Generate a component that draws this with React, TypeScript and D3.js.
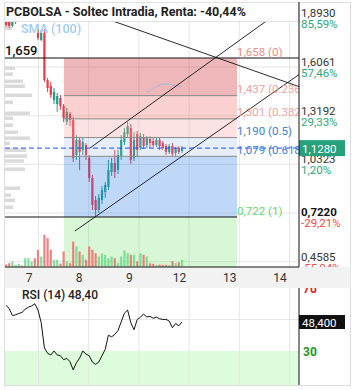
import React from "react";
import * as d3 from "d3";

// intraday candles, Soltec (PCBOLSA)
const open = [1.871, 1.877, 1.848, 1.871, 1.889, 1.918, 1.901, 1.924, 1.936, 1.948,
  1.824, 1.765, 1.806, 1.529, 1.494, 1.412, 1.388, 1.423, 1.376, 1.282,
  1.329, 1.294, 1.087, 1.176, 1.117, 1.146, 1.070, 0.952, 0.822, 0.763,
  0.822, 0.869, 0.899, 0.987, 1.040, 0.999, 1.082, 1.164, 1.211, 1.247,
  1.070, 1.211, 1.129, 1.193, 1.146, 1.182, 1.170, 1.146, 1.176, 1.158,
  1.140, 1.105, 1.140, 1.099, 1.129, 1.111];
const high = [1.883, 1.883, 1.883, 1.907, 1.930, 1.930, 1.936, 1.954, 1.960, 1.960,
  1.830, 1.824, 1.830, 1.541, 1.518, 1.482, 1.453, 1.441, 1.388, 1.364,
  1.341, 1.311, 1.205, 1.193, 1.188, 1.158, 1.087, 0.970, 0.846, 0.857,
  0.905, 0.928, 1.058, 1.070, 1.117, 1.117, 1.205, 1.247, 1.282, 1.270,
  1.223, 1.229, 1.217, 1.211, 1.199, 1.199, 1.188, 1.188, 1.188, 1.170,
  1.152, 1.152, 1.158, 1.135, 1.140, 1.140];
const low = [1.842, 1.836, 1.842, 1.859, 1.883, 1.889, 1.895, 1.912, 1.924, 1.918,
  1.765, 1.759, 1.518, 1.459, 1.423, 1.388, 1.341, 1.353, 1.282, 1.264,
  1.258, 1.046, 1.058, 0.999, 1.087, 1.058, 0.928, 0.763, 0.722, 0.746,
  0.799, 0.834, 0.881, 0.964, 0.952, 0.975, 1.058, 1.146, 1.188, 1.034,
  1.052, 1.076, 1.117, 1.123, 1.129, 1.129, 1.135, 1.135, 1.117, 1.117,
  1.087, 1.093, 1.082, 1.082, 1.093, 1.099];
const close = [1.854, 1.848, 1.871, 1.895, 1.918, 1.901, 1.924, 1.942, 1.948, 1.930,
  1.777, 1.806, 1.529, 1.482, 1.441, 1.459, 1.435, 1.376, 1.305, 1.341,
  1.294, 1.070, 1.176, 1.105, 1.164, 1.087, 0.952, 0.793, 0.763, 0.834,
  0.881, 0.911, 0.999, 1.040, 0.987, 1.087, 1.176, 1.223, 1.258, 1.058,
  1.176, 1.117, 1.199, 1.140, 1.188, 1.158, 1.146, 1.176, 1.140, 1.129,
  1.105, 1.140, 1.093, 1.123, 1.105, 1.128];
const volume = [20, 33, 50, 15, 27, 10, 83, 83, 50, 83,
  167, 100, 317, 283, 167, 67, 67, 30, 150, 50,
  33, 250, 200, 150, 117, 67, 200, 167, 133, 100,
  130, 117, 83, 100, 83, 33, 100, 160, 133, 117,
  117, 50, 133, 117, 100, 33, 27, 17, 20, 17,
  17, 15, 53, 33, 43, 67];
const rsi = [59, 57, 52.5, 53, 53.8, 54.5, 56.5, 57.8, 58.6, 60,
  56, 48, 32, 28.5, 27.5, 30, 27.5, 27, 24.5, 25.3,
  23.2, 18, 22.5, 25.5, 30, 28, 27, 23, 21.5, 23,
  27, 31, 40, 39, 40.5, 43, 48.5, 54, 56, 48,
  43.5, 50, 51.4, 53.5, 51.6, 52, 50.8, 51.5, 50.5, 50,
  50.1, 49, 44.8, 47.5, 46, 48.4];

// SMA(100), only the visible tail
const smaIdx = [44, 45, 46, 47, 48, 49, 50, 51, 52, 53, 54, 55];
const smaVal = [1.456, 1.468, 1.479, 1.491, 1.5, 1.504, 1.506, 1.504, 1.5, 1.497, 1.494, 1.491];

// volume profile on the left
const profilePrice = [1.865, 1.836, 1.6, 1.565, 1.523, 1.494, 1.441, 1.4, 1.335, 1.305, 1.264,
  1.223, 1.188, 1.158, 1.117, 1.082, 1.053, 1.005, 0.893, 0.852, 0.822, 0.781];
const profileVol = [7, 7, 10, 8, 18, 20, 27, 8, 25, 8, 8, 13, 25, 5, 21, 22, 19, 20, 15, 6, 10, 8];

const days = ["7", "8", "9", "12", "13", "14"];
const gridTicks = [1.893, 1.6061, 1.3192, 1.0323, 0.7454, 0.4585];
const priceTicks = [1.893, 1.6061, 1.3192, 1.0323, 0.4585];
const pctTicks = ["85,59%", "57,46%", "29,33%", "1,20%", "-55,04%"];

const fibLevels = [0, 0.236, 0.382, 0.5, 0.618, 1];
const fibHigh = 1.6584;
const fibLow = 0.7216;
const fibFrom = 18.1;
const fibTo = 72.2;
const hiLine = 1.659;
const loLine = 0.722;
const loLinePct = "-29,21%";
const lastPrice = 1.128;
const lastRsi = 48.4;

// drawn trend lines: [index, price] pairs
const trendLines = [
  [[32.5, 1.883], [91.6, 1.49]],
  [[26.25, 1.1287], [83.1, 1.9006]],
  [[21.56, 0.6396], [91.56, 1.5612]],
];

const comma = (v: number, d: number) => v.toFixed(d).replace(".", ",");

export default function App() {
  const L = 5, R = 299, T = 2, B = 267;
  const x = d3.scaleLinear().domain([0, 55]).range([6, 182]);
  const y = d3.scaleLinear().domain([loLine, hiLine]).range([217, 58]);
  const vy = d3.scaleLinear().domain([0, 400]).range([266.5, 226.5]);
  const ry = d3.scaleLinear().domain([30, 70]).range([351, 288]);
  const xd = d3.scalePoint().domain(days).range([29, 280]);
  const font = "Roboto, sans-serif";

  const fibPrice = (l: number) => fibHigh - l * (fibHigh - fibLow);
  const fibFill = [
    "rgba(200,20,30,0.3)",
    "rgba(240,100,100,0.3)",
    "rgba(245,160,160,0.3)",
    "rgba(130,170,230,0.2)",
    "rgba(45,125,232,0.3)",
  ];
  const fibColor = ["#f08a8a", "#f5a0a0", "#f5a5a5", "#3c82dc", "#3c82dc", "#6ad86a"];
  const fx0 = x(fibFrom), fx1 = x(fibTo);

  const smaLine = d3.line<number>().x((d, i) => x(smaIdx[i])).y((d) => y(d)).curve(d3.curveMonotoneX);
  const rsiLine = d3.line<number>().x((d, i) => x(i)).y((d) => ry(d));

  const up = (i: number) => close[i] >= open[i];
  const red = "#f23645", green = "#1e9e86";

  return (
    <svg width={353} height={390} style={{ position: "absolute", left: 0, top: 0, background: "#fff" }} fontFamily={font}>
      <defs>
        <clipPath id="main"><rect x={L} y={T} width={R - L} height={B - T} /></clipPath>
        <clipPath id="rsi"><rect x={L} y={288} width={R - L} height={97} /></clipPath>
        <clipPath id="axr"><rect x={R} y={T} width={52} height={B - T} /></clipPath>
      </defs>
      <rect x={4.5} y={2.5} width={346} height={383} fill="#fff" stroke="#ddd" />

      <g clipPath="url(#main)">
        {days.map((d) => (
          <line key={d} x1={xd(d)! + 9.5} x2={xd(d)! + 9.5} y1={T} y2={B} stroke="#e6e6e6" />
        ))}
        {gridTicks.map((t) => (
          <line key={t} x1={L} x2={R} y1={y(t)} y2={y(t)} stroke="#e6e6e6" />
        ))}
        {profilePrice.map((p, i) => (
          <rect key={i} x={L} y={y(p) - 1.5} width={profileVol[i]} height={3.5} fill="#dadada" />
        ))}
        {/* fib green zone under level 1 */}
        <rect x={fx0} y={y(fibLow)} width={fx1 - fx0} height={B - y(fibLow)} fill="rgba(100,225,90,0.25)" />
        {volume.map((v, i) => (
          <rect key={i} x={x(i) - 1.1} y={vy(v)} width={2.2} height={vy(0) - vy(v)}
            fill={up(i) ? "#6cd98a" : "#f26b6b"} opacity={0.85} />
        ))}
        {open.map((o, i) => {
          const c = up(i) ? green : red;
          const y0 = y(Math.max(o, close[i])), y1 = y(Math.min(o, close[i]));
          return (
            <g key={i}>
              <line x1={x(i)} x2={x(i)} y1={y(high[i])} y2={y(low[i])} stroke={c} strokeWidth={1} />
              <rect x={x(i) - 1.1} y={y0} width={2.2} height={Math.max(1, y1 - y0)} fill={c} />
            </g>
          );
        })}
        {fibLevels.slice(0, -1).map((l, i) => (
          <rect key={l} x={fx0} y={y(fibPrice(l))} width={fx1 - fx0}
            height={y(fibPrice(fibLevels[i + 1])) - y(fibPrice(l))} fill={fibFill[i]} />
        ))}
        {fibLevels.slice(1, -1).map((l) => (
          <line key={l} x1={fx0} x2={fx1} y1={y(fibPrice(l))} y2={y(fibPrice(l))} stroke="#8a8a8a" />
        ))}
        <line x1={L} x2={R} y1={y(hiLine)} y2={y(hiLine)} stroke="#111" />
        <line x1={L} x2={fx1} y1={y(loLine)} y2={y(loLine)} stroke="#111" />
        <path d={smaLine(smaVal)!} fill="none" stroke="#a8b4d8" strokeWidth={1} />
        {trendLines.map((t, i) => (
          <line key={i} x1={x(t[0][0])} y1={y(t[0][1])} x2={x(t[1][0])} y2={y(t[1][1])} stroke="#111" strokeWidth={0.9} />
        ))}
        <line x1={L} x2={R} y1={y(lastPrice)} y2={y(lastPrice)} stroke="#1a4dff" strokeDasharray="5,3" />
        {fibLevels.map((l, i) => (
          <text key={l} x={fx1} y={y(fibPrice(l)) - 2.5} fontSize={11.5} fill={fibColor[i]}>
            {comma(fibPrice(l), 3)} ({l})
          </text>
        ))}
        <text x={L} y={y(hiLine) - 3} fontSize={13} fill="#111" fontWeight={500}>{comma(hiLine, 3)}</text>
        <text x={21} y={33} fontSize={12.5} fontWeight={500} fill="#9ccdf2">SMA (100)</text>
      </g>

      {/* title */}
      <rect x={4.5} y={2.5} width={294} height={19} fill="#fff" opacity={0.92} stroke="#e2e2e2" />
      <text x={6} y={16} fontSize={12.5} fontWeight={700} fill="#222">PCBOLSA - Soltec Intradia, Renta: -40,44%</text>

      {/* right price axis */}
      <g clipPath="url(#axr)" fontSize={11.5}>
        {priceTicks.map((p, i) => (
          <g key={p}>
            <text x={301} y={y(p) - 1} fill="#333">{comma(p, 4)}</text>
            <text x={301} y={y(p) + 10} fill={pctTicks[i].startsWith("-") ? "#f44" : "#2aa77c"}>{pctTicks[i]}</text>
          </g>
        ))}
        <text x={301} y={y(loLine) - 1} fill="#111" fontWeight={700}>{comma(loLine, 4)}</text>
        <text x={301} y={y(loLine) + 10} fill="#f44">{loLinePct}</text>
        <rect x={R} y={y(lastPrice) - 8} width={46} height={16} fill="#26a17b" />
        <text x={302} y={y(lastPrice) + 4.5} fill="#fff">{comma(lastPrice, 4)}</text>
      </g>
      <line x1={R} x2={R} y1={T} y2={B} stroke="#111" />

      {/* RSI panel */}
      <g clipPath="url(#rsi)">
        <rect x={L} y={ry(30)} width={R - L} height={385 - ry(30)} fill="#dcfcdc" />
        {days.map((d) => (
          <line key={d} x1={xd(d)! + 9.5} x2={xd(d)! + 9.5} y1={288} y2={385} stroke="#e6e6e6" />
        ))}
        <line x1={L} x2={R} y1={ry(50)} y2={ry(50)} stroke="#e6e6e6" />
        <path d={rsiLine(rsi)!} fill="none" stroke="#111" strokeWidth={1} />
      </g>
      <text x={22} y={299} fontSize={12} fontWeight={500} fill="#222">RSI (14)</text>
      <text x={68} y={299} fontSize={12} fontWeight={500} fill="#222">{comma(lastRsi, 2)}</text>
      <line x1={R} x2={R} y1={288} y2={385} stroke="#111" />
      <text x={303} y={ry(70) + 4.5} fontSize={12} fontWeight={700} fill="#e62020">70</text>
      <text x={303} y={ry(30) + 4.5} fontSize={12} fontWeight={700} fill="#1a9a1a">30</text>
      <rect x={R} y={ry(lastRsi) - 7} width={46} height={14} fill="#111" />
      <text x={302} y={ry(lastRsi) + 4.5} fontSize={11.5} fill="#fff">{comma(lastRsi, 3)}</text>

      {/* time axis */}
      <rect x={4.5} y={B} width={346} height={21} fill="#f2f2f2" />
      <line x1={L} x2={R} y1={B} y2={B} stroke="#111" />
      {days.map((d) => (
        <text key={d} x={xd(d)} y={282} fontSize={12} fill="#333" textAnchor="middle">{d}</text>
      ))}
    </svg>
  );
}
